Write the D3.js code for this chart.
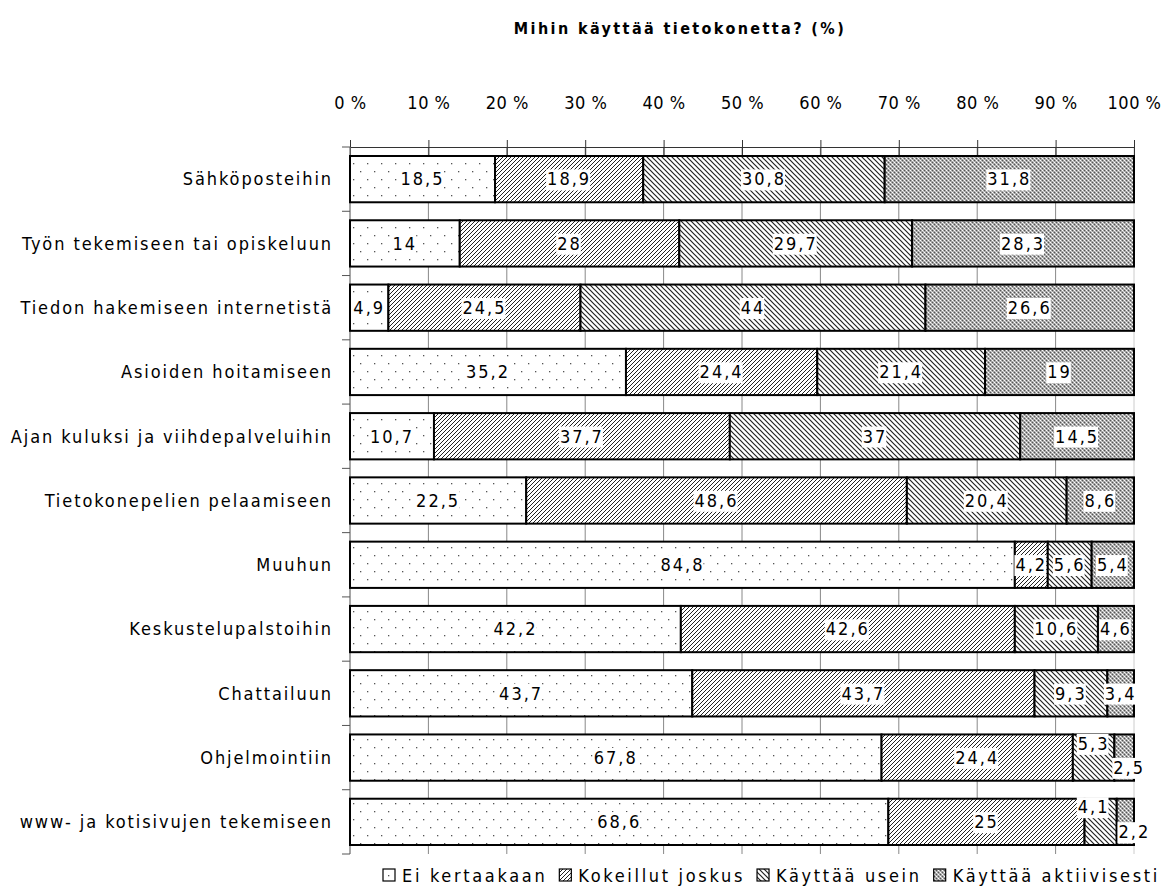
<!DOCTYPE html>
<html><head><meta charset="utf-8">
<script src="https://cdn.jsdelivr.net/npm/d3@7/dist/d3.min.js"></script>
<style>
body{margin:0;background:#fff;}
text{font-family:"DejaVu Sans Condensed","DejaVu Sans",sans-serif;}
</style></head>
<body>
<svg id="chart" width="1163" height="891"></svg>
<script>
const title = "Mihin käyttää tietokonetta? (%)";
const categories = ["Sähköposteihin","Työn tekemiseen tai opiskeluun","Tiedon hakemiseen internetistä","Asioiden hoitamiseen","Ajan kuluksi ja viihdepalveluihin","Tietokonepelien pelaamiseen","Muuhun","Keskustelupalstoihin","Chattailuun","Ohjelmointiin","www- ja kotisivujen tekemiseen"];
const seriesNames = ["Ei kertaakaan","Kokeillut joskus","Käyttää usein","Käyttää aktiivisesti"];
const eiKertaakaan = [18.5,14,4.9,35.2,10.7,22.5,84.8,42.2,43.7,67.8,68.6];
const kokeillutJoskus = [18.9,28,24.5,24.4,37.7,48.6,4.2,42.6,43.7,24.4,25];
const kayttaaUsein = [30.8,29.7,44,21.4,37,20.4,5.6,10.6,9.3,5.3,4.1];
const kayttaaAktiivisesti = [31.8,28.3,26.6,19,14.5,8.6,5.4,4.6,3.4,2.5,2.2];
const tickValues = [0,10,20,30,40,50,60,70,80,90,100];
const tickLabels = ["0 %","10 %","20 %","30 %","40 %","50 %","60 %","70 %","80 %","90 %","100 %"];

const seriesValues = [eiKertaakaan,kokeillutJoskus,kayttaaUsein,kayttaaAktiivisesti];
// label nudges for crowded small segments: [category index, series index, dx, dy]
const labelNudges = [[9,2,0,-14],[9,3,5,10],[10,2,-7,-15],[10,3,9,10]];

const svg = d3.select("#chart");
const defs = svg.append("defs");
// patterns
const p0 = defs.append("pattern").attr("id","pat0").attr("patternUnits","userSpaceOnUse").attr("width",14).attr("height",16);
p0.append("rect").attr("width",14).attr("height",16).attr("fill","#fff");
p0.append("rect").attr("x",3).attr("y",3).attr("width",1.3).attr("height",1.3).attr("fill","#555");
p0.append("rect").attr("x",10).attr("y",11).attr("width",1.3).attr("height",1.3).attr("fill","#555");
const p1 = defs.append("pattern").attr("id","pat1").attr("patternUnits","userSpaceOnUse").attr("width",4).attr("height",4);
p1.append("rect").attr("width",4).attr("height",4).attr("fill","#fff");
p1.append("path").attr("d","M-1,1 L1,-1 M0,4 L4,0 M3,5 L5,3").attr("stroke","#222").attr("stroke-width",1);
const p2 = defs.append("pattern").attr("id","pat2").attr("patternUnits","userSpaceOnUse").attr("width",5).attr("height",5);
p2.append("rect").attr("width",5).attr("height",5).attr("fill","#fff");
p2.append("path").attr("d","M-1,4 L1,6 M0,0 L5,5 M4,-1 L6,1").attr("stroke","#222").attr("stroke-width",1.2);
const p3 = defs.append("pattern").attr("id","pat3").attr("patternUnits","userSpaceOnUse").attr("width",4).attr("height",4);
p3.append("rect").attr("width",4).attr("height",4).attr("fill","#a6a6a6");
p3.append("rect").attr("x",0).attr("y",0).attr("width",1).attr("height",1).attr("fill","#fff");
p3.append("rect").attr("x",2).attr("y",2).attr("width",1).attr("height",1).attr("fill","#fff");
p3.append("rect").attr("x",1).attr("y",1).attr("width",1).attr("height",1).attr("fill","#d6d6d6");
p3.append("rect").attr("x",3).attr("y",3).attr("width",1).attr("height",1).attr("fill","#d6d6d6");
p3.append("rect").attr("x",2).attr("y",0).attr("width",1).attr("height",1).attr("fill","#555");
p3.append("rect").attr("x",0).attr("y",2).attr("width",1).attr("height",1).attr("fill","#555");
const fills = ["url(#pat0)","url(#pat1)","url(#pat2)","url(#pat3)"];

const x = d3.scaleLinear().domain([0,100]).range([350,1134]);
const y = d3.scaleBand().domain(categories).range([147,854]).paddingInner(0.28).paddingOuter(0.14);

// title
svg.append("text").attr("x",680).attr("y",34).attr("text-anchor","middle")
  .attr("font-size",16).attr("font-weight","bold").attr("letter-spacing","2.4px").text(title);

// gridlines
svg.append("g").selectAll("line").data(tickValues).join("line")
  .attr("x1",d=>x(d)).attr("x2",d=>x(d)).attr("y1",147).attr("y2",854)
  .attr("stroke",d=>d===100?"#ccc":"#888").attr("stroke-width",1);

// top axis
const xAxis = d3.axisTop(x).tickValues(tickValues).tickFormat((d,i)=>tickLabels[i]).tickSizeInner(7).tickSizeOuter(0);
const gx = svg.append("g").attr("transform","translate(0,147)").call(xAxis);
gx.select(".domain").attr("stroke","#333");
gx.selectAll(".tick line").attr("stroke","#333").attr("y2",-7).attr("y1",8);
gx.selectAll(".tick text").attr("font-size",18).attr("fill","#000").attr("y",-38)
  .attr("letter-spacing","0.5px")
  .attr("font-family","\"DejaVu Sans Condensed\",sans-serif");

// left axis
const step = y.step();
svg.append("line").attr("x1",350).attr("x2",350).attr("y1",147).attr("y2",854).attr("stroke","#888");
const boundaries = d3.range(categories.length+1).map(i=>147+i*step);
svg.append("g").selectAll("line").data(boundaries).join("line")
  .attr("x1",342).attr("x2",350).attr("y1",d=>d).attr("y2",d=>d).attr("stroke","#555");

// category labels
svg.append("g").selectAll("text").data(categories).join("text")
  .attr("x",333).attr("y",d=>y(d)+y.bandwidth()/2).attr("dy","0.35em")
  .attr("text-anchor","end").attr("font-size",18).attr("letter-spacing","1.9px").text(d=>d);

// stacked data (normalized to 100 %)
const rows = categories.map((c,i)=>{
  const vals = seriesValues.map(s=>s[i]);
  const tot = d3.sum(vals);
  let acc = 0;
  return vals.map((v,j)=>{const x0=acc/tot*100; acc+=v; return {c,i,j,v,x0,x1:acc/tot*100};});
});
const segs = rows.flat();

svg.append("g").selectAll("rect").data(segs).join("rect")
  .attr("x",d=>x(d.x0)).attr("width",d=>x(d.x1)-x(d.x0))
  .attr("y",d=>y(d.c)).attr("height",y.bandwidth())
  .attr("fill",d=>fills[d.j]).attr("stroke","#000").attr("stroke-width",2);

// labels
const fmt = v=>String(v).replace(".",",");
const lg = svg.append("g");
segs.forEach(d=>{
  const n = labelNudges.find(k=>k[0]===d.i&&k[1]===d.j);
  const cx = (x(d.x0)+x(d.x1))/2 + (n?n[2]:0);
  const cy = y(d.c)+y.bandwidth()/2 + (n?n[3]:0);
  const g = lg.append("g");
  const t = g.append("text").attr("x",cx).attr("y",cy).attr("dy","0.35em")
    .attr("text-anchor","middle").attr("font-size",18).attr("letter-spacing","2px").text(fmt(d.v));
  const bb = t.node().getBBox();
  g.insert("rect","text").attr("x",bb.x-1).attr("y",bb.y+1).attr("width",bb.width).attr("height",bb.height).attr("fill","#fff");
});

// legend: laid out to span from the left start to the right edge
const leg = svg.append("g");
const legStart = 383, legEnd = 1160, sw = 12, swGap = 7, itemGap = 12;
const texts = seriesNames.map(s=>leg.append("text").attr("y",882).attr("font-size",18).text(s));
const baseW = d3.sum(texts, t=>t.node().getComputedTextLength());
const nChars = d3.sum(seriesNames, s=>s.length);
const ls = (legEnd - legStart - seriesNames.length*(sw+swGap) - (seriesNames.length-1)*itemGap - baseW)/nChars;
let lx = legStart;
texts.forEach((t,j)=>{
  leg.append("rect").attr("x",lx).attr("y",869).attr("width",sw).attr("height",sw)
    .attr("fill",fills[j]).attr("stroke","#000").attr("stroke-width",1.2);
  t.attr("letter-spacing",ls+"px").attr("x",lx+sw+swGap);
  lx += sw + swGap + t.node().getComputedTextLength() + itemGap;
});
</script>
</body></html>
